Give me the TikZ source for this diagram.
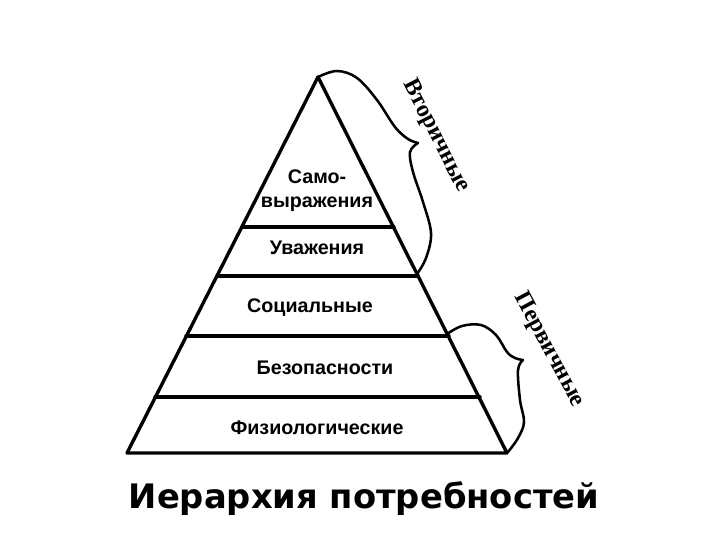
\documentclass[tikz,border=0pt]{standalone}
\usepackage{fontspec}
\setmainfont{Liberation Serif}
\setsansfont{Liberation Sans}
\newfontfamily\titlefont{DejaVu Sans}
\tikzset{
  edge/.style={line width=2.4pt, line cap=round, line join=round},
  brace/.style={line width=1.8pt, line cap=round},
  level/.style={font=\sffamily\bfseries\fontsize{14}{17}\selectfont, align=center, inner sep=0pt},
  side/.style={font=\bfseries\fontsize{17}{20}\selectfont, inner sep=0pt},
}
\begin{document}
\begin{tikzpicture}[x=0.025cm,y=-0.025cm]
        \useasboundingbox (0,0) rectangle (720,540);
        \coordinate (A) at (318,77);
        \coordinate (B) at (127,453);
        \coordinate (C) at (507,453);
        \coordinate (D1) at (242,227);
        \coordinate (E1) at (394,227);
        \coordinate (D2) at (217,276);
        \coordinate (E2) at (418,276);
        \coordinate (D3) at (186,336);
        \coordinate (E3) at (449,336);
        \coordinate (D4) at (155,397);
        \coordinate (E4) at (480,397);

        \draw[edge] (A) -- (B) -- (C) -- cycle;
        \draw[edge] (D1) -- (E1);
        \draw[edge] (D2) -- (E2);
        \draw[edge] (D3) -- (E3);
        \draw[edge] (D4) -- (E4);

        \node[level] (self) at (317,191) {Само-\\выражения};
        \node[level] (esteem) at (317,248) {Уважения};
        \node[level] (social) at (310,308) {Социальные};
        \node[level] (safety) at (325,368) {Безопасности};
        \node[level] (physio) at (317,428) {Физиологические};

        % braces
        \coordinate (S) at (418,143);
        \coordinate (P) at (523,360);
        \draw[brace] plot[smooth, tension=0.6] coordinates {(318,77) (337,71) (357,78) (377,100) (395,127) (408,139) (418,143)};
        \draw[brace] plot[smooth, tension=0.6] coordinates {(418,143) (410,152) (413,172) (423,202) (431,233) (426,258) (417,274)};
        \draw[brace] plot[smooth, tension=0.6] coordinates {(447,334) (462,326) (481,325) (496,335) (507,352) (515,358) (523,360)};
        \draw[brace] plot[smooth, tension=0.6] coordinates {(523,360) (518,370) (520,400) (524,422) (518,438) (508,452)};

        \node[side, rotate=-63] (second) at (436,136) {Вторичные};
        \node[side, rotate=-62] (first) at (549,350) {Первичные};

        \node[font=\titlefont\bfseries\fontsize{24}{28}\selectfont, anchor=base] (title) at (364,508) {Иерархия потребностей};
      \end{tikzpicture}
\end{document}
